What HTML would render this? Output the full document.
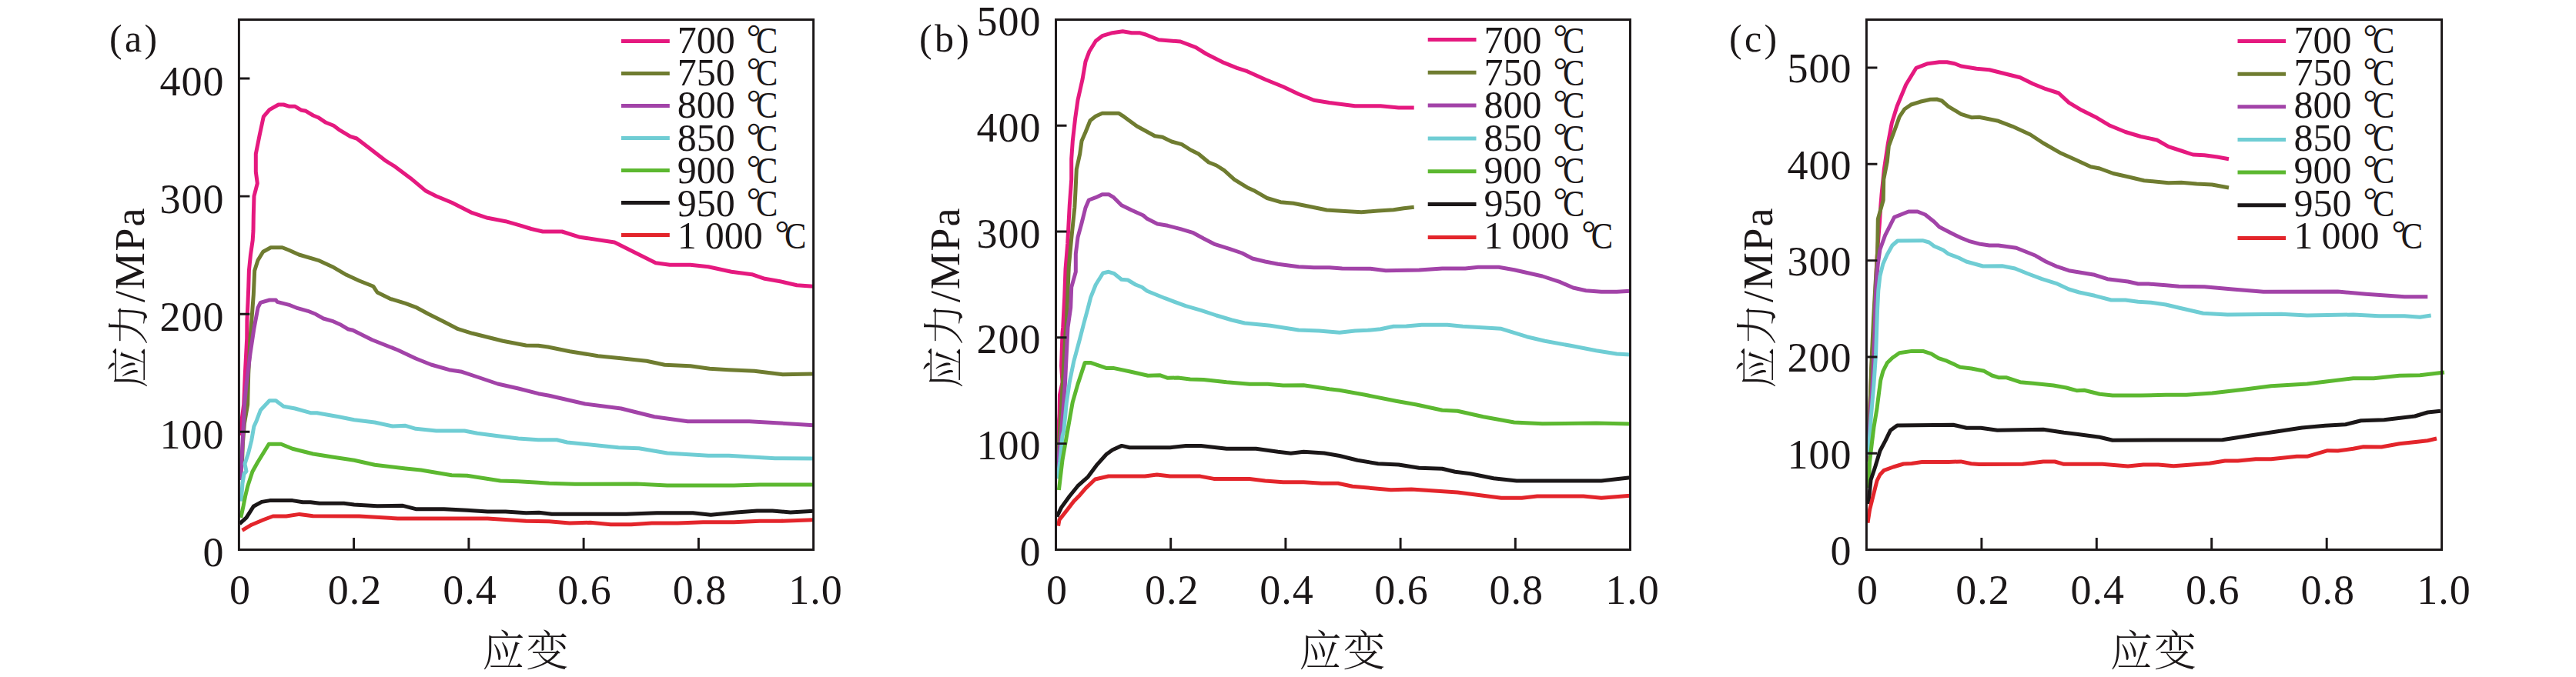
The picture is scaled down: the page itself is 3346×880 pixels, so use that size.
<!DOCTYPE html>
<html lang="zh-CN">
<head>
<meta charset="utf-8">
<title>应力-应变曲线</title>
<style>
html,body{margin:0;padding:0;background:#fff;}
body{width:3346px;height:880px;overflow:hidden;}
svg{display:block;}
text{font-family:"Liberation Serif","Noto Serif CJK SC",serif;fill:#1B1718;}
.t{font-size:54px;}
.l{font-size:50px;}
.l{word-spacing:-1.5px;}
.dg{font-size:46.7px;}
.cc{font-size:49.5px;}
.cj{font-family:"Liberation Serif","Noto Serif CJK SC",serif;font-weight:300;}
.yl{letter-spacing:1.8px;}
.tag{font-size:50px;letter-spacing:3.3px;}
.xl{font-size:55px;letter-spacing:2px;}
.n{letter-spacing:1px;}
.ax{stroke:#1B1718;stroke-width:2.95;fill:none;stroke-linecap:butt;}
.c{fill:none;stroke-width:5.0;stroke-linejoin:round;stroke-linecap:butt;}
</style>
</head>
<body>
<svg width="3346" height="880" viewBox="0 0 3346 880">
<rect x="0" y="0" width="3346" height="880" fill="#ffffff"/>

<g id="panel-a">
<path class="c" stroke="#E5197F" d="M312 566 L313.5 550 L316.7 525.7 L318.3 486.7 L320.7 440 L320.9 416 L322 393 L322.8 372.4 L323.4 351.7 L325.5 331 L328.2 312.4 L329 300 L329.3 280 L330 255 L334.3 238.3 L332.3 223.3 L332.3 200 L337.3 175 L342.3 151.7 L350 142.7 L361.7 136 L368.3 136 L376 138.3 L383.3 138.3 L391.7 143.3 L397.3 144.3 L406.7 150 L413.3 152.7 L423.3 159.3 L433.3 163.3 L440 168.3 L455 177.3 L463.3 180 L480 192.7 L500 208.3 L513.3 216.7 L533.3 231.7 L553.3 248.3 L566.7 255 L586.7 263.3 L613.3 276.7 L633.3 283.3 L656.7 287.7 L676.7 293.3 L690 297.5 L705 301 L730 301 L753.3 308.3 L798.3 315 L826.7 329.3 L851.7 341.7 L870 344.3 L896.7 344.3 L920 346.7 L950 353.3 L976.7 356.7 L993.3 362.3 L1013.3 365.7 L1035 370.7 L1056.5 372.3"/>
<path class="c" stroke="#6F7C30" d="M314.5 600 L315.5 575 L317.5 550 L321.7 525.7 L322.7 486.7 L325 440 L327.3 410 L329.3 383.3 L330.7 351.7 L335 338.3 L341.7 327.3 L351.7 321.7 L366.7 321.7 L375 325 L388.3 331 L413.3 338.3 L431.7 346.7 L450 357.3 L466.7 365 L485 372.3 L490 380 L506.7 388.3 L526.7 394.3 L540 399.3 L556.7 408.3 L576.7 418.3 L595 427.7 L613.3 433.3 L633.3 438.3 L653.3 443.3 L683.3 449 L699.3 449.3 L711.7 451 L740 456.7 L776.7 462.7 L806.7 465.7 L840 469.3 L863.3 474.3 L896.7 475.7 L921.7 479.3 L946.7 480.7 L980 482.3 L1016.7 486.7 L1056.5 486"/>
<path class="c" stroke="#A243A8" d="M312.8 624 L315.3 570 L316.5 550 L317.5 525.7 L320 500 L325 460 L330 426.7 L335 400 L338.3 393.3 L350 390 L358.3 390 L360 392.3 L376.7 396.7 L386.7 400.7 L400 404.3 L410 408.3 L420 414 L431.7 417.3 L441.7 421.7 L451.7 427.7 L458.3 429.3 L483.3 441.7 L516.7 455 L540 466 L560 474 L583.3 480.7 L600 483.3 L620 490 L646.7 499 L673.3 505 L699.3 511.7 L713.3 514.3 L760 525 L806.7 531 L850 541.7 L893.3 547.7 L973.3 547.7 L1013.3 550 L1056.5 552.7"/>
<path class="c" stroke="#6FCDD4" d="M313.3 651.6 L315 628 L317 616 L320 612.5 L318 603 L322.6 589 L326.6 573 L329.8 554.6 L333.3 546.7 L338.3 533.3 L350 520.7 L358.3 520.7 L368.3 528.3 L383.3 531 L403.3 536.7 L411.7 536.7 L440 541.7 L460 545.7 L486.7 549 L510 554 L526.7 553.3 L540 557.3 L566.7 560 L603.3 560 L620 563.3 L646.7 566.7 L673.3 570 L699.3 571.7 L723.3 571.7 L736.7 575 L803.3 581.7 L830 582.7 L866.7 589 L920 592.3 L946.7 592.3 L1006.7 595.7 L1056.5 596"/>
<path class="c" stroke="#5CB830" d="M312.8 672.9 L316 658.3 L318.6 645 L321.8 631.7 L327.9 613 L334.6 601 L349.2 577.2 L365.1 577.2 L379.8 583.3 L406.7 590 L433.3 594.3 L460 598.3 L486.7 604.3 L526.7 609 L546.7 611 L586.7 617.7 L606.7 618.3 L650 625 L673.3 625.7 L699.3 627.3 L713.3 628.3 L746.7 629.3 L826.7 629 L866.7 631 L953.3 631 L986.7 630 L1056.5 630"/>
<path class="c" stroke="#1B1718" d="M311.2 680.9 L320 672.9 L329.2 658.3 L339.9 652.4 L350.5 650.6 L380 650.6 L393.3 652.7 L403.3 652.7 L415 654.3 L446.7 654.3 L460 656 L490 657.7 L523.3 657.3 L540 661.7 L576.7 661.7 L606.7 663.3 L633.3 665 L656.7 665 L683.3 666.7 L700 666.2 L716.7 668.3 L813.3 668.3 L853.3 666.7 L900 666.7 L923.3 669.3 L956.7 666 L983.3 664 L1003.3 664 L1026.7 666 L1056.5 664.3"/>
<path class="c" stroke="#E3252B" d="M314.6 689.4 L326.6 682.2 L342.5 675.5 L354.5 671 L371.8 671 L389 668.4 L406.4 670.8 L466.7 671 L516.7 674 L633.3 674 L683.3 677.2 L713.3 677.7 L740 680 L766.7 679.3 L793.3 681.7 L820 681.7 L846.7 680 L880 680 L913.3 678.7 L953.3 678.7 L986.7 677.3 L1013.3 677.3 L1056.5 675.7"/>
<path class="ax" d="M310.4 25.4 L1056.6 25.4 L1056.6 714.5 L310.4 714.5 Z" stroke-linejoin="miter"/>
<text class="t n" x="311.9" y="785" text-anchor="middle">0</text>
<text class="t n" x="461.1" y="785" text-anchor="middle">0.2</text>
<text class="t n" x="610.4" y="785" text-anchor="middle">0.4</text>
<text class="t n" x="759.6" y="785" text-anchor="middle">0.6</text>
<text class="t n" x="908.9" y="785" text-anchor="middle">0.8</text>
<text class="t n" x="1059.6" y="785" text-anchor="middle">1.0</text>
<text class="t n" x="291.4" y="736.1" text-anchor="end">0</text>
<text class="t n" x="291.4" y="582.9" text-anchor="end">100</text>
<text class="t n" x="291.4" y="429.8" text-anchor="end">200</text>
<text class="t n" x="291.4" y="276.7" text-anchor="end">300</text>
<text class="t n" x="291.4" y="123.6" text-anchor="end">400</text>
<path class="ax" d="M459.6 714.5 V699 M608.9 714.5 V699 M758.1 714.5 V699 M907.4 714.5 V699 M310.4 561.3 H324.4 M310.4 408.2 H324.4 M310.4 255.1 H324.4 M310.4 102 H324.4"/>
<text class="t cj xl" x="683.5" y="864.5" text-anchor="middle">应变</text>
<text class="t cj yl" transform="translate(186.9 386.7) rotate(-90)" text-anchor="middle">应力/MPa</text>
<text class="tag" x="142" y="67.3">(a)</text>
<path class="c" stroke="#E5197F" stroke-width="5" d="M806.9 53.4 H869.8"/>
<text class="l" x="879.7" y="68.6">700 <tspan class="dg" x="969.7" y="64.4">°</tspan><tspan class="cc" x="982.1" y="68.6" textLength="28.4" lengthAdjust="spacingAndGlyphs">C</tspan></text>
<path class="c" stroke="#6F7C30" stroke-width="5" d="M806.9 95.4 H869.8"/>
<text class="l" x="879.7" y="111">750 <tspan class="dg" x="969.7" y="106.8">°</tspan><tspan class="cc" x="982.1" y="111" textLength="28.4" lengthAdjust="spacingAndGlyphs">C</tspan></text>
<path class="c" stroke="#A243A8" stroke-width="5" d="M806.9 137.4 H869.8"/>
<text class="l" x="879.7" y="153.4">800 <tspan class="dg" x="969.7" y="149.2">°</tspan><tspan class="cc" x="982.1" y="153.4" textLength="28.4" lengthAdjust="spacingAndGlyphs">C</tspan></text>
<path class="c" stroke="#6FCDD4" stroke-width="5" d="M806.9 179.5 H869.8"/>
<text class="l" x="879.7" y="195.8">850 <tspan class="dg" x="969.7" y="191.6">°</tspan><tspan class="cc" x="982.1" y="195.8" textLength="28.4" lengthAdjust="spacingAndGlyphs">C</tspan></text>
<path class="c" stroke="#5CB830" stroke-width="5" d="M806.9 221.5 H869.8"/>
<text class="l" x="879.7" y="238.2">900 <tspan class="dg" x="969.7" y="234">°</tspan><tspan class="cc" x="982.1" y="238.2" textLength="28.4" lengthAdjust="spacingAndGlyphs">C</tspan></text>
<path class="c" stroke="#1B1718" stroke-width="5" d="M806.9 263.5 H869.8"/>
<text class="l" x="879.7" y="280.6">950 <tspan class="dg" x="969.7" y="276.4">°</tspan><tspan class="cc" x="982.1" y="280.6" textLength="28.4" lengthAdjust="spacingAndGlyphs">C</tspan></text>
<path class="c" stroke="#E3252B" stroke-width="5" d="M806.9 305.5 H869.8"/>
<text class="l" x="879.7" y="323">1 000 <tspan class="dg" x="1006.5" y="318.8">°</tspan><tspan class="cc" x="1018.9" y="323" textLength="28.4" lengthAdjust="spacingAndGlyphs">C</tspan></text>
</g>
<g id="panel-b">
<path class="c" stroke="#E5197F" d="M1373 600 L1374.6 560 L1376 539.5 L1376.5 513 L1380 497 L1378.6 475.7 L1380 433 L1380.7 425.7 L1382.7 386.7 L1384 350 L1386.7 316.7 L1389.3 266.7 L1391.7 233.3 L1391.7 206.7 L1393.3 183.3 L1396.7 153.3 L1400 130 L1406 103.3 L1410 80 L1415 66.7 L1423.3 53.3 L1431.7 46.7 L1445 42.7 L1458.3 40.7 L1470 42.7 L1480 42.7 L1488.3 45 L1505 51.7 L1533.3 54 L1553.3 61.7 L1566.7 70 L1590 81.7 L1606.7 88.3 L1620 92.7 L1643.3 103.3 L1666.7 112.7 L1686.7 122.3 L1706.7 130.3 L1726.7 133.5 L1760 137.7 L1793.3 137.7 L1816.7 140 L1836.7 140"/>
<path class="c" stroke="#6F7C30" d="M1373.5 605 L1376.5 560 L1378.6 529 L1381 486 L1384 433 L1385 425.7 L1386.7 386.7 L1388.3 346.7 L1391.7 310 L1395.8 270 L1396.9 250 L1398.3 220 L1402.7 200 L1405 183.3 L1410 171.7 L1416 156.7 L1423.3 151 L1431.7 147.3 L1453.3 147.3 L1460 151.7 L1476.7 164 L1500 176.7 L1510 178.3 L1521.7 184 L1535 187.7 L1546.7 195 L1556.7 200 L1570 211 L1580 215 L1590 221.3 L1603.3 233.3 L1620 243.7 L1630 248.3 L1645.8 257.5 L1663.3 262.7 L1680 264.3 L1700 268.3 L1723.3 273 L1746.7 274.5 L1768.3 275.7 L1790 274 L1810 272.7 L1823.3 270.7 L1836.7 269.3"/>
<path class="c" stroke="#A243A8" d="M1373.3 611.8 L1378.6 560 L1381.3 529 L1383.4 499.6 L1385.3 460 L1387 425.7 L1390.7 400 L1391.7 373.3 L1397.3 353.3 L1397.3 330 L1400 308.3 L1405 290 L1410 270 L1414.3 260 L1423.3 256.7 L1431.7 252.7 L1440 252.7 L1446.7 256.7 L1456.7 266.7 L1470 273.3 L1485 280 L1490 284.3 L1503.3 291 L1516.7 293.3 L1533.3 297.7 L1550 302.7 L1563.3 310 L1578.3 317.7 L1596.7 323.3 L1613.3 329 L1626.7 336 L1643.3 340 L1660 343.3 L1686.7 346.7 L1706.7 347.7 L1726.7 347.7 L1743.3 349 L1780 349.3 L1800 351.7 L1843.3 351 L1873.3 349 L1903.3 349 L1920 347.3 L1946.7 347.3 L1966.7 350.7 L2003.3 359 L2026.7 366.7 L2043.3 374 L2060 377.7 L2080 379.3 L2100 379.3 L2117.5 378.3"/>
<path class="c" stroke="#6FCDD4" d="M1373.8 622.4 L1376.7 600 L1380 566.7 L1381.8 560 L1385.3 523.6 L1389.2 497 L1394.6 470.4 L1402.5 441 L1407.9 420 L1413.3 400 L1416.7 386.7 L1423.3 370 L1432.7 355 L1440 353.3 L1447.3 355.7 L1456.7 363.3 L1465 364 L1475 370 L1483.3 373.3 L1490 378.3 L1513.3 387.7 L1540 397.7 L1560 403.3 L1580 410 L1600 416 L1616.7 420 L1650 423.3 L1686.7 429 L1713.3 430 L1740 432.3 L1760 430 L1776.7 429.3 L1793.3 427.7 L1810 424.3 L1826.7 424 L1846.7 422.3 L1880 422.3 L1900 424.3 L1950 427.3 L1983.3 437.7 L2006.7 443.3 L2040 449.3 L2073.3 455.7 L2100 460 L2117.5 461"/>
<path class="c" stroke="#5CB830" d="M1375.4 637 L1380 598 L1386.7 560 L1393.2 523 L1399.9 499.6 L1409.2 471.4 L1416.3 471.4 L1437.5 478.6 L1446 478.4 L1468 483 L1491 488.2 L1506.4 487.7 L1516.8 491.3 L1530 491 L1546 493 L1563.3 493.4 L1593.3 496.7 L1623.3 499.3 L1646.7 499.3 L1666.7 501 L1693.3 500.7 L1726.7 505.7 L1740 507.2 L1773.3 513.3 L1813.3 521.2 L1840 526 L1873.3 533.3 L1893.3 534.3 L1926.7 541.7 L1966.7 549 L2003.3 550.7 L2073.3 550 L2117.5 551"/>
<path class="c" stroke="#1B1718" d="M1372.8 671.6 L1378.6 659.6 L1389.2 645 L1399.9 631.7 L1413.2 619.8 L1425.1 603.8 L1437.1 590.5 L1445.1 584.7 L1457 579.4 L1467.2 581.7 L1520 581.7 L1540.4 579.6 L1560 579.6 L1593.3 583.3 L1631.5 583.3 L1660 587.3 L1676.7 589.2 L1693.3 587.3 L1720 589 L1740 592.5 L1763.3 598.3 L1790 602.7 L1816.7 604 L1843.3 608.3 L1873.3 609.3 L1890 613.3 L1910 615.7 L1940 621.7 L1970 625 L2080 625 L2117.5 620.7"/>
<path class="c" stroke="#E3252B" d="M1374.6 683.6 L1376 675.6 L1386.6 662.3 L1394.6 651.7 L1402.5 643.7 L1410.5 634.4 L1422.5 623 L1439.8 619 L1487.2 619 L1502.8 616.9 L1519.7 619.1 L1559 619.1 L1576.7 622.4 L1623 622.4 L1643.3 625 L1666.7 626.7 L1693.3 626.7 L1716.7 628.3 L1738 628.3 L1756.7 632.3 L1806.7 636.7 L1833.3 636 L1893.3 640 L1950 647.3 L1976.7 647.3 L1996.7 645 L2056.7 645 L2080 647.3 L2117.5 644.3"/>
<path class="ax" d="M1371.5 25.4 L2117.5 25.4 L2117.5 714.5 L1371.5 714.5 Z" stroke-linejoin="miter"/>
<text class="t n" x="1373" y="785" text-anchor="middle">0</text>
<text class="t n" x="1522.2" y="785" text-anchor="middle">0.2</text>
<text class="t n" x="1671.4" y="785" text-anchor="middle">0.4</text>
<text class="t n" x="1820.6" y="785" text-anchor="middle">0.6</text>
<text class="t n" x="1969.8" y="785" text-anchor="middle">0.8</text>
<text class="t n" x="2120.5" y="785" text-anchor="middle">1.0</text>
<text class="t n" x="1352.5" y="735.1" text-anchor="end">0</text>
<text class="t n" x="1352.5" y="597.2" text-anchor="end">100</text>
<text class="t n" x="1352.5" y="459.4" text-anchor="end">200</text>
<text class="t n" x="1352.5" y="321.6" text-anchor="end">300</text>
<text class="t n" x="1352.5" y="183.8" text-anchor="end">400</text>
<text class="t n" x="1352.5" y="46" text-anchor="end">500</text>
<path class="ax" d="M1520.7 714.5 V699 M1669.9 714.5 V699 M1819.1 714.5 V699 M1968.3 714.5 V699 M1371.5 576.6 H1385.5 M1371.5 438.8 H1385.5 M1371.5 301 H1385.5 M1371.5 163.2 H1385.5"/>
<text class="t cj xl" x="1744.5" y="864.5" text-anchor="middle">应变</text>
<text class="t cj yl" transform="translate(1245.8 386.7) rotate(-90)" text-anchor="middle">应力/MPa</text>
<text class="tag" x="1194" y="67.3">(b)</text>
<path class="c" stroke="#E5197F" stroke-width="5" d="M1854.7 51.4 H1917.5"/>
<text class="l" x="1927.5" y="68.6">700 <tspan class="dg" x="2017.5" y="64.4">°</tspan><tspan class="cc" x="2029.9" y="68.6" textLength="28.4" lengthAdjust="spacingAndGlyphs">C</tspan></text>
<path class="c" stroke="#6F7C30" stroke-width="5" d="M1854.7 94.2 H1917.5"/>
<text class="l" x="1927.5" y="111">750 <tspan class="dg" x="2017.5" y="106.8">°</tspan><tspan class="cc" x="2029.9" y="111" textLength="28.4" lengthAdjust="spacingAndGlyphs">C</tspan></text>
<path class="c" stroke="#A243A8" stroke-width="5" d="M1854.7 137.1 H1917.5"/>
<text class="l" x="1927.5" y="153.4">800 <tspan class="dg" x="2017.5" y="149.2">°</tspan><tspan class="cc" x="2029.9" y="153.4" textLength="28.4" lengthAdjust="spacingAndGlyphs">C</tspan></text>
<path class="c" stroke="#6FCDD4" stroke-width="5" d="M1854.7 179.9 H1917.5"/>
<text class="l" x="1927.5" y="195.8">850 <tspan class="dg" x="2017.5" y="191.6">°</tspan><tspan class="cc" x="2029.9" y="195.8" textLength="28.4" lengthAdjust="spacingAndGlyphs">C</tspan></text>
<path class="c" stroke="#5CB830" stroke-width="5" d="M1854.7 222.7 H1917.5"/>
<text class="l" x="1927.5" y="238.2">900 <tspan class="dg" x="2017.5" y="234">°</tspan><tspan class="cc" x="2029.9" y="238.2" textLength="28.4" lengthAdjust="spacingAndGlyphs">C</tspan></text>
<path class="c" stroke="#1B1718" stroke-width="5" d="M1854.7 265.5 H1917.5"/>
<text class="l" x="1927.5" y="280.6">950 <tspan class="dg" x="2017.5" y="276.4">°</tspan><tspan class="cc" x="2029.9" y="280.6" textLength="28.4" lengthAdjust="spacingAndGlyphs">C</tspan></text>
<path class="c" stroke="#E3252B" stroke-width="5" d="M1854.7 308.4 H1917.5"/>
<text class="l" x="1927.5" y="323">1 000 <tspan class="dg" x="2054.3" y="318.8">°</tspan><tspan class="cc" x="2066.7" y="323" textLength="28.4" lengthAdjust="spacingAndGlyphs">C</tspan></text>
</g>
<g id="panel-c">
<path class="c" stroke="#E5197F" d="M2426 600 L2427.5 560 L2431 480 L2434 420 L2436 380 L2437.5 345 L2439.3 316.5 L2441.4 290 L2442.8 268 L2444 253.3 L2447.3 220 L2452.3 186.7 L2457.3 160 L2464 138.3 L2475.7 110 L2489 88.3 L2504 82.7 L2519 80.7 L2529 80.7 L2539 82.7 L2547.3 86 L2567.3 89.3 L2584 90.7 L2604 95.7 L2624 100.7 L2640.7 109 L2657.3 115.7 L2674 121 L2687.3 133.3 L2704 143.3 L2724 153.3 L2740.7 163.3 L2760.7 171.5 L2780.7 177.5 L2801.7 182 L2816.7 190.7 L2833.3 196 L2848.3 201 L2863.3 201.7 L2880 204 L2895 206.7"/>
<path class="c" stroke="#6F7C30" d="M2426.5 600 L2428 560 L2430.5 480 L2433.5 415 L2436 370 L2438 340 L2438.7 324.4 L2439.3 284.6 L2446.2 260.3 L2446.7 233.3 L2451.3 210 L2453.3 190 L2460.7 170 L2467.3 151.7 L2474 141.7 L2482.3 136 L2494 132.3 L2507.3 129.3 L2515.7 129 L2522.3 131 L2530.7 138.3 L2547.3 148.3 L2560.7 152.7 L2570.7 152.3 L2595.7 157.3 L2614 164.3 L2637.3 175 L2654 186 L2677.3 199.3 L2697.3 208.3 L2715.7 216.7 L2727.3 219 L2745 225.5 L2765 230 L2785 234.7 L2816.7 237.7 L2833.3 237.3 L2853.3 239 L2873.3 240 L2895 244"/>
<path class="c" stroke="#A243A8" d="M2425.8 600 L2427.5 570 L2429.8 535 L2432.6 492 L2435.2 430 L2436 396 L2437.4 364.3 L2439.3 343 L2441.9 324.5 L2448.6 305.8 L2460.5 282.3 L2479 275 L2490.7 275 L2500.7 279 L2512.3 288.3 L2519 295 L2534 302.7 L2547.3 309.3 L2557.3 313.3 L2572.3 317.3 L2584 319 L2595.7 319 L2619 322.3 L2644 332.3 L2657.3 340 L2672.3 346.7 L2687.3 351.7 L2720.7 357.3 L2737.3 362.7 L2764 366 L2777.3 369 L2790.7 369 L2813.3 370.7 L2830 372.3 L2863.3 372.7 L2900 376 L2940 379.3 L3036.7 379 L3073.3 382.3 L3123.3 385.7 L3153.3 385.7"/>
<path class="c" stroke="#6FCDD4" d="M2426.8 592 L2427.8 579.5 L2430.5 539.6 L2433.9 499.8 L2436.6 459.9 L2437.6 430 L2438.5 404.2 L2439.8 377.6 L2441.9 359 L2445.9 343 L2451.2 331 L2457.9 319 L2464.8 313 L2497.3 312.7 L2505.7 315 L2512.3 320 L2524 325 L2530.7 330 L2544 335 L2554 340 L2575.7 346 L2600.7 345.7 L2617.3 349 L2634 355.7 L2652.3 362.7 L2670.7 368.3 L2687.3 376 L2700.7 380 L2720.7 384.3 L2742.3 390 L2760.7 390 L2777.3 392.3 L2794 393.3 L2813.3 396 L2830 400 L2861.7 407.3 L2893.3 409 L2963.3 408.3 L2996.7 410 L3056.7 409 L3090 410.7 L3123.3 410.7 L3143.3 412.3 L3157.7 410"/>
<path class="c" stroke="#5CB830" d="M2427 634 L2428.6 600 L2431.3 576.9 L2433.9 555.6 L2437.9 531.7 L2440.6 510.4 L2442.7 494.4 L2445.9 482.5 L2451.2 471.8 L2457.9 465.2 L2467.2 458.8 L2483.1 456.4 L2497.8 456.4 L2508.6 459.8 L2518 465.6 L2528.8 469.2 L2546 477.2 L2560.7 479 L2577.3 482.3 L2587.3 488 L2595.7 490.7 L2605.7 490.7 L2624 496.7 L2640.7 498.3 L2667.3 501 L2684 504 L2697.3 507.7 L2707.3 507.3 L2727.3 512.3 L2744 514 L2780.7 514 L2813.3 513.3 L2840 513.3 L2873.3 511 L2916.7 506 L2950 501.7 L2996.7 499 L3023.3 495.7 L3056.7 491.7 L3083.3 491.7 L3116.7 488.3 L3143.3 487.7 L3175 484"/>
<path class="c" stroke="#1B1718" d="M2426.8 655 L2430 624 L2435.8 606.5 L2442 586 L2448.8 573.2 L2455.4 559.6 L2464.3 553 L2537 552.2 L2554.4 556.2 L2573 556.2 L2594.4 559.2 L2654 558.3 L2680.7 562.3 L2697.3 564.3 L2727.3 568.3 L2744 572.3 L2886.7 571.7 L2923.3 566 L2956.7 561 L2990 556 L3020 553.3 L3046.7 551.7 L3066.7 546.7 L3096.7 545.7 L3136.7 541 L3153.3 536 L3170 534.3"/>
<path class="c" stroke="#E3252B" d="M2426 679.6 L2428.6 662.3 L2432.6 646.4 L2438 625 L2441.9 617 L2447.2 611.3 L2459.2 607 L2472.5 603 L2483 602.5 L2496.4 600.6 L2531 600.6 L2547 599.9 L2560.4 602.8 L2570.8 603.5 L2627.3 603.3 L2654 600 L2669 600 L2680.7 603.3 L2730.7 603.3 L2764 606 L2784 604 L2803.3 604 L2823.3 605.7 L2870 602.3 L2890 599 L2906.7 599 L2930 596.7 L2950 596.7 L2983.3 593.3 L2996.7 593.3 L3023.3 585.7 L3036.7 586 L3056.7 583.3 L3070 580.7 L3093.3 581 L3116.7 576.7 L3140 574.3 L3153.3 572.7 L3165 570"/>
<path class="ax" d="M2424.4 25.4 L3171.6 25.4 L3171.6 714.5 L2424.4 714.5 Z" stroke-linejoin="miter"/>
<text class="t n" x="2425.9" y="785" text-anchor="middle">0</text>
<text class="t n" x="2575.4" y="785" text-anchor="middle">0.2</text>
<text class="t n" x="2724.8" y="785" text-anchor="middle">0.4</text>
<text class="t n" x="2874.2" y="785" text-anchor="middle">0.6</text>
<text class="t n" x="3023.7" y="785" text-anchor="middle">0.8</text>
<text class="t n" x="3174.6" y="785" text-anchor="middle">1.0</text>
<text class="t n" x="2405.4" y="733.9" text-anchor="end">0</text>
<text class="t n" x="2405.4" y="608.6" text-anchor="end">100</text>
<text class="t n" x="2405.4" y="483.3" text-anchor="end">200</text>
<text class="t n" x="2405.4" y="358" text-anchor="end">300</text>
<text class="t n" x="2405.4" y="232.7" text-anchor="end">400</text>
<text class="t n" x="2405.4" y="107.4" text-anchor="end">500</text>
<path class="ax" d="M2573.9 714.5 V699 M2723.3 714.5 V699 M2872.7 714.5 V699 M3022.2 714.5 V699 M2424.4 589.2 H2438.4 M2424.4 463.9 H2438.4 M2424.4 338.6 H2438.4 M2424.4 213.3 H2438.4 M2424.4 88 H2438.4"/>
<text class="t cj xl" x="2798" y="864.5" text-anchor="middle">应变</text>
<text class="t cj yl" transform="translate(2301.6 386.7) rotate(-90)" text-anchor="middle">应力/MPa</text>
<text class="tag" x="2246" y="67.3">(c)</text>
<path class="c" stroke="#E5197F" stroke-width="5" d="M2906.5 53.5 H2969"/>
<text class="l" x="2979.6" y="68.6">700 <tspan class="dg" x="3069.6" y="64.4">°</tspan><tspan class="cc" x="3082" y="68.6" textLength="28.4" lengthAdjust="spacingAndGlyphs">C</tspan></text>
<path class="c" stroke="#6F7C30" stroke-width="5" d="M2906.5 96.2 H2969"/>
<text class="l" x="2979.6" y="111">750 <tspan class="dg" x="3069.6" y="106.8">°</tspan><tspan class="cc" x="3082" y="111" textLength="28.4" lengthAdjust="spacingAndGlyphs">C</tspan></text>
<path class="c" stroke="#A243A8" stroke-width="5" d="M2906.5 138.8 H2969"/>
<text class="l" x="2979.6" y="153.4">800 <tspan class="dg" x="3069.6" y="149.2">°</tspan><tspan class="cc" x="3082" y="153.4" textLength="28.4" lengthAdjust="spacingAndGlyphs">C</tspan></text>
<path class="c" stroke="#6FCDD4" stroke-width="5" d="M2906.5 181.5 H2969"/>
<text class="l" x="2979.6" y="195.8">850 <tspan class="dg" x="3069.6" y="191.6">°</tspan><tspan class="cc" x="3082" y="195.8" textLength="28.4" lengthAdjust="spacingAndGlyphs">C</tspan></text>
<path class="c" stroke="#5CB830" stroke-width="5" d="M2906.5 224.1 H2969"/>
<text class="l" x="2979.6" y="238.2">900 <tspan class="dg" x="3069.6" y="234">°</tspan><tspan class="cc" x="3082" y="238.2" textLength="28.4" lengthAdjust="spacingAndGlyphs">C</tspan></text>
<path class="c" stroke="#1B1718" stroke-width="5" d="M2906.5 266.8 H2969"/>
<text class="l" x="2979.6" y="280.6">950 <tspan class="dg" x="3069.6" y="276.4">°</tspan><tspan class="cc" x="3082" y="280.6" textLength="28.4" lengthAdjust="spacingAndGlyphs">C</tspan></text>
<path class="c" stroke="#E3252B" stroke-width="5" d="M2906.5 309.5 H2969"/>
<text class="l" x="2979.6" y="323">1 000 <tspan class="dg" x="3106.4" y="318.8">°</tspan><tspan class="cc" x="3118.8" y="323" textLength="28.4" lengthAdjust="spacingAndGlyphs">C</tspan></text>
</g>
</svg>
</body>
</html>
